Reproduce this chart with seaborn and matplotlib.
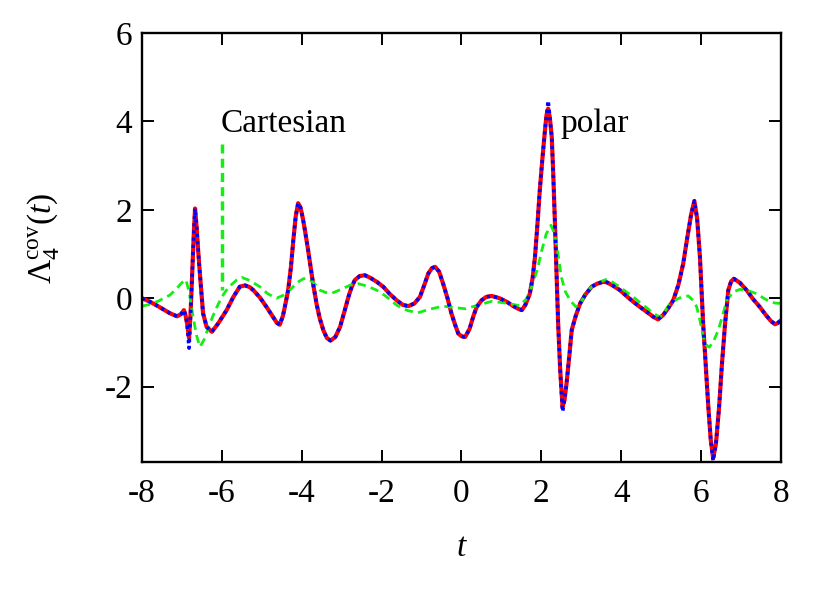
import numpy as np
import pandas as pd
import seaborn as sns
import matplotlib
matplotlib.use("Agg")
import matplotlib.pyplot as plt

# values
t_polar = [-8.0, -7.8, -7.6, -7.45, -7.3, -7.12, -7.02, -6.95, -6.91, -6.87,
           -6.82, -6.78, -6.74, -6.70, -6.67, -6.63, -6.59, -6.55, -6.47, -6.38,
           -6.25, -6.09, -5.88, -5.71, -5.55, -5.42, -5.30, -5.21, -5.05, -4.88,
           -4.72, -4.62, -4.55, -4.47, -4.40, -4.34, -4.27, -4.21, -4.15, -4.09,
           -4.03, -3.97, -3.92, -3.85, -3.79, -3.71, -3.63, -3.55, -3.46, -3.37,
           -3.28, -3.16, -3.04, -2.93, -2.83, -2.75, -2.67, -2.55, -2.42, -2.28,
           -2.12, -1.96, -1.80, -1.62, -1.47, -1.33, -1.18, -1.04, -0.93, -0.83,
           -0.74, -0.66, -0.56, -0.46, -0.35, -0.25, -0.16, -0.08, 0.00, 0.09,
           0.20, 0.30, 0.38, 0.50, 0.62, 0.76, 0.95, 1.13, 1.30, 1.42,
           1.51, 1.60, 1.71, 1.78, 1.84, 1.90, 1.96, 2.03, 2.09, 2.13,
           2.17, 2.21, 2.26, 2.30, 2.34, 2.38, 2.42, 2.47, 2.53, 2.58,
           2.63, 2.70, 2.76, 2.86, 2.97, 3.10, 3.26, 3.40, 3.55, 3.64,
           3.80, 3.97, 4.13, 4.30, 4.47, 4.64, 4.80, 4.92, 5.05, 5.18,
           5.30, 5.43, 5.55, 5.65, 5.75, 5.83, 5.90, 5.97, 6.05, 6.12,
           6.18, 6.24, 6.30, 6.37, 6.45, 6.52, 6.60, 6.68, 6.75, 6.82,
           6.97, 7.14, 7.30, 7.47, 7.62, 7.75, 7.85, 7.92, 8.00]
polar_red = [0.00, -0.08, -0.18, -0.26, -0.34, -0.41, -0.36, -0.27, -0.38, -0.57,
             -0.90, -0.30, 0.60, 1.50, 2.03, 1.60, 1.05, 0.57, -0.34, -0.65,
             -0.76, -0.57, -0.27, 0.03, 0.26, 0.29, 0.25, 0.18, 0.02, -0.20,
             -0.42, -0.56, -0.60, -0.40, -0.10, 0.18, 0.70, 1.31, 1.85, 2.15,
             2.05, 1.80, 1.54, 1.15, 0.78, 0.30, -0.12, -0.45, -0.72, -0.90,
             -0.96, -0.88, -0.65, -0.30, 0.03, 0.25, 0.41, 0.50, 0.52, 0.46,
             0.37, 0.26, 0.10, -0.05, -0.15, -0.18, -0.12, 0.03, 0.30, 0.56,
             0.68, 0.71, 0.60, 0.33, 0.00, -0.35, -0.60, -0.80, -0.86, -0.88,
             -0.70, -0.40, -0.20, -0.05, 0.03, 0.05, 0.00, -0.08, -0.18, -0.24,
             -0.27, -0.15, 0.10, 0.45, 0.93, 1.65, 2.44, 3.20, 3.80, 4.15,
             4.29, 4.10, 3.65, 2.75, 1.69, 0.55, -0.57, -1.60, -2.46, -2.30,
             -1.93, -1.30, -0.72, -0.40, -0.12, 0.08, 0.26, 0.33, 0.37, 0.36,
             0.28, 0.18, 0.05, -0.08, -0.20, -0.31, -0.42, -0.48, -0.38, -0.22,
             -0.05, 0.30, 0.78, 1.35, 1.90, 2.20, 1.80, 0.93, -0.57, -1.60,
             -2.46, -3.20, -3.62, -3.30, -2.46, -1.50, -0.57, 0.18, 0.38, 0.44,
             0.35, 0.18, -0.02, -0.20, -0.38, -0.52, -0.59, -0.56, -0.50]
# the dotted curve sits on the solid one except at the sharp extrema
polar_blue = list(polar_red)
polar_blue[t_polar.index(-6.82)] = -1.13
polar_blue[t_polar.index(2.17)] = 4.47
polar_blue[t_polar.index(2.53)] = -2.57
polar_blue[t_polar.index(6.30)] = -3.68

t_cart = [-8.0, -7.8, -7.6, -7.45, -7.3, -7.15, -7.0, -6.90, -6.82, -6.72,
          -6.63, -6.55, -6.45, -6.30, -6.15, -6.00, -5.83, -5.63, -5.50, -5.30,
          -5.05, -4.85, -4.63, -4.45, -4.30, -4.12, -3.96, -3.85, -3.70, -3.54,
          -3.40, -3.25, -2.96, -2.78, -2.59, -2.35, -2.12, -1.90, -1.62, -1.35,
          -1.09, -0.80, -0.46, -0.20, 0.10, 0.40, 0.76, 1.10, 1.46, 1.62,
          1.76, 1.90, 2.01, 2.12, 2.24, 2.31, 2.38, 2.44, 2.50, 2.60,
          2.72, 2.87, 3.02, 3.17, 3.32, 3.47, 3.64, 3.80, 3.97, 4.13,
          4.30, 4.47, 4.64, 4.80, 4.97, 5.10, 5.22, 5.40, 5.55, 5.68,
          5.80, 5.89, 5.97, 6.05, 6.12, 6.20, 6.30, 6.43, 6.54, 6.64,
          6.80, 6.97, 7.18, 7.39, 7.55, 7.72, 7.85, 8.00]
cart_green = [-0.18, -0.14, -0.07, 0.00, 0.07, 0.20, 0.35, 0.42, 0.15, -0.42,
              -0.85, -1.10, -0.95, -0.57, -0.25, 0.03, 0.25, 0.41, 0.47, 0.40,
              0.26, 0.10, 0.00, 0.07, 0.18, 0.35, 0.44, 0.45, 0.35, 0.18,
              0.13, 0.11, 0.22, 0.30, 0.33, 0.27, 0.18, 0.05, -0.16, -0.28,
              -0.33, -0.25, -0.18, -0.21, -0.24, -0.16, -0.07, -0.11, -0.17, -0.02,
              0.26, 0.65, 1.08, 1.45, 1.65, 1.50, 1.24, 0.85, 0.48, 0.15,
              -0.05, -0.20, -0.05, 0.18, 0.30, 0.37, 0.43, 0.35, 0.25, 0.14,
              0.03, -0.10, -0.22, -0.34, -0.43, -0.28, -0.12, -0.02, 0.04, 0.05,
              -0.05, -0.20, -0.50, -0.87, -1.05, -1.11, -1.00, -0.72, -0.38, -0.05,
              0.14, 0.20, 0.17, 0.10, 0.01, -0.08, -0.11, -0.12]

x_ticks = [-8, -6, -4, -2, 0, 2, 4, 6, 8]
y_ticks = [-2, 0, 2, 4, 6]

polar_df = pd.DataFrame({"t": t_polar, "red": polar_red, "blue": polar_blue})
cart_df = pd.DataFrame({"t": t_cart, "green": cart_green})

sns.set_theme(style="ticks")
plt.rcParams["font.family"] = ["Liberation Serif", "DejaVu Serif"]
plt.rcParams["mathtext.fontset"] = "custom"
plt.rcParams["mathtext.rm"] = "Liberation Serif"
plt.rcParams["mathtext.it"] = "Liberation Serif:italic"
plt.rcParams["axes.unicode_minus"] = False
plt.rcParams["text.color"] = "black"
plt.rcParams["axes.labelcolor"] = "black"

fig = plt.figure(figsize=(8.3, 5.94), dpi=100)
ax = fig.add_axes([0.171, 0.2227, 0.770, 0.7217])

green = "#14ee14"
sns.lineplot(data=polar_df, x="t", y="red", ax=ax, color="#ff0000", lw=3.0,
             solid_capstyle="round", solid_joinstyle="round")
sns.lineplot(data=cart_df, x="t", y="green", ax=ax, color=green, lw=2.0,
             linestyle=(0, (3.0, 1.9)))
sns.lineplot(data=polar_df, x="t", y="blue", ax=ax, color="#0000ff", lw=2.6,
             linestyle=(0, (0.9, 1.1)))

# pointer from the "Cartesian" label
ax.plot([-6.0, -6.0], [3.5, 0.18], color=green, lw=2.5,
        linestyle=(0, (2.6, 1.5)))
ax.text(-6.03, 3.75, "Cartesian", fontsize=24, ha="left", va="baseline")
ax.text(2.47, 3.75, "polar", fontsize=24, ha="left", va="baseline")

ax.set_xlim(-8, 8)
ax.set_ylim(-3.7, 6)
ax.set_xticks(x_ticks)
ax.set_yticks(y_ticks)
ax.set_xticklabels([str(v) for v in x_ticks])
ax.set_yticklabels([str(v) for v in y_ticks])
ax.tick_params(direction="in", length=8.5, width=1.4, top=True, right=True,
               labelsize=24, colors="black")
ax.tick_params(axis="x", pad=12)
ax.tick_params(axis="y", pad=7)
for side in ax.spines.values():
    side.set_linewidth(1.7)
    side.set_color("black")
    side.set_visible(True)

ax.set_xlabel(r"$t$", fontsize=24)
ax.set_ylabel(r"$\Lambda_4^{\rm cov}(t)$", fontsize=24)
ax.xaxis.set_label_coords(0.5, -0.2)
ax.xaxis.label.set_va("center")
ax.yaxis.set_label_coords(-0.155, 0.52)
ax.yaxis.label.set_va("center")

fig.savefig("out.png", dpi=100)
